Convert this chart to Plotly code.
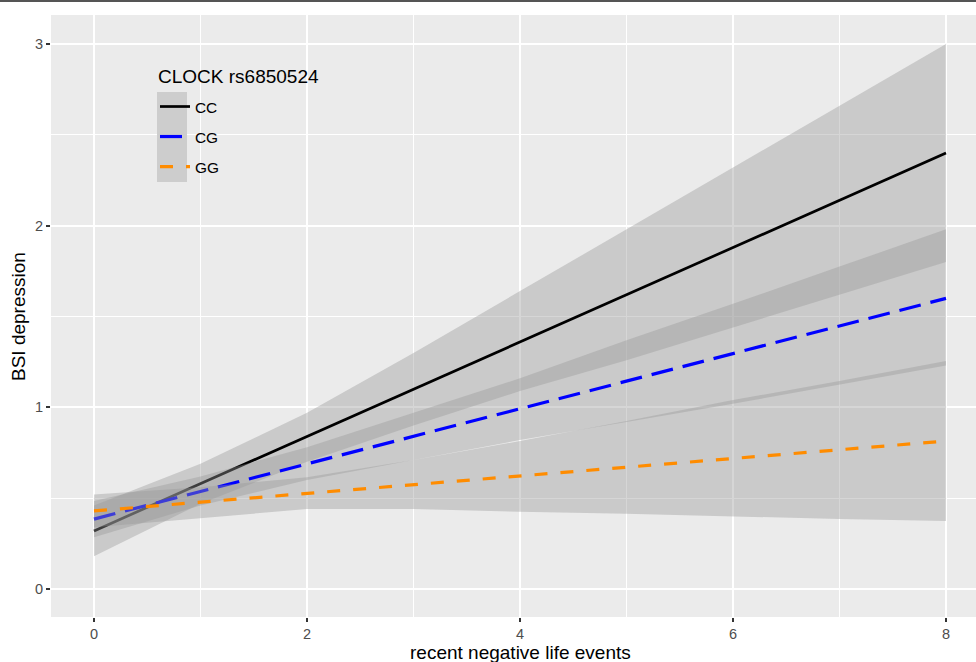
import plotly.graph_objects as go

# ---- data ----
life_events = [0, 1, 2, 3, 4, 5, 6, 7, 8]

cc_fit   = [0.32, 0.58, 0.84, 1.10, 1.36, 1.62, 1.88, 2.14, 2.40]
cc_lower = [0.18, 0.47, 0.70, 0.90, 1.09, 1.26, 1.44, 1.62, 1.80]
cc_upper = [0.46, 0.69, 0.97, 1.30, 1.64, 1.98, 2.32, 2.66, 3.00]

cg_fit   = [0.385, 0.537, 0.689, 0.841, 0.993, 1.145, 1.297, 1.449, 1.60]
cg_lower = [0.285, 0.46, 0.60, 0.71, 0.82, 0.92, 1.02, 1.125, 1.23]
cg_upper = [0.485, 0.62, 0.78, 0.97, 1.16, 1.37, 1.57, 1.775, 1.98]

gg_fit   = [0.43, 0.478, 0.526, 0.574, 0.622, 0.67, 0.718, 0.766, 0.815]
gg_lower = [0.34, 0.39, 0.44, 0.44, 0.425, 0.415, 0.40, 0.385, 0.375]
gg_upper = [0.52, 0.56, 0.615, 0.71, 0.815, 0.925, 1.04, 1.145, 1.255]

genotypes = ["CC", "CG", "GG"]
legend_title = "CLOCK rs6850524"
x_title = "recent negative life events"
y_title = "BSI depression"
x_ticks = [0, 2, 4, 6, 8]
y_ticks = [0, 1, 2, 3]

series = [
    (genotypes[0], cc_fit, cc_lower, cc_upper, "#000000", "solid", 2.7),
    (genotypes[1], cg_fit, cg_lower, cg_upper, "#0000FF", "22px,10px", 3.2),
    (genotypes[2], gg_fit, gg_lower, gg_upper, "#FF8C00", "13px,13px", 3.2),
]

FONT = "Liberation Sans, Arial, sans-serif"
W, H = 976, 662
ML, MR, MT, MB = 51, 0, 15, 45
PW, PH = W - ML - MR, H - MT - MB

def px_to_paper_x(px):
    return (px - ML) / PW

def px_to_paper_y(py):
    return (H - MB - py) / PH

fig = go.Figure()
for name, fit, lo, hi, color, dash, lw in series:
    fig.add_trace(go.Scatter(
        x=life_events + life_events[::-1],
        y=hi + lo[::-1],
        fill="toself", fillcolor="rgba(153,153,153,0.4)",
        line=dict(width=0), mode="lines",
        hoverinfo="skip", showlegend=False, legendgroup=name,
    ))
    fig.add_trace(go.Scatter(
        x=life_events, y=fit, mode="lines", name=name, legendgroup=name,
        line=dict(color=color, dash=dash, width=lw),
    ))

fig.update_layout(
    width=W, height=H,
    margin=dict(l=ML, r=MR, t=MT, b=MB),
    paper_bgcolor="white", plot_bgcolor="#EBEBEB",
    font=dict(family=FONT, color="#4D4D4D"),
    legend=dict(
        font=dict(size=15.4, color="#000000"),
        x=px_to_paper_x(155), y=px_to_paper_y(90),
        xanchor="left", yanchor="top",
        bgcolor="rgba(0,0,0,0)", tracegroupgap=7,
        traceorder="grouped", itemwidth=30,
    ),
    showlegend=True,
)

fig.update_xaxes(
    range=[-0.4038, 8.2817], tickvals=x_ticks, ticktext=[str(v) for v in x_ticks],
    showgrid=True, gridcolor="white", gridwidth=2,
    minor=dict(dtick=1, showgrid=True, gridcolor="white", gridwidth=1, tick0=0),
    zeroline=False, ticks="outside", ticklen=4, tickcolor="#333333", tickwidth=1.5,
    tickfont=dict(size=14.5, color="#4D4D4D"), showline=False,
)
fig.update_yaxes(
    range=[-0.154, 3.16], tickvals=y_ticks, ticktext=[str(v) for v in y_ticks],
    showgrid=True, gridcolor="white", gridwidth=2,
    minor=dict(dtick=0.5, showgrid=True, gridcolor="white", gridwidth=1, tick0=0),
    zeroline=False, ticks="outside", ticklen=4, tickcolor="#333333", tickwidth=1.5,
    tickfont=dict(size=14.5, color="#4D4D4D"), showline=False,
)

# axis titles and legend title
fig.add_annotation(text=x_title, xref="paper", yref="paper",
                   x=px_to_paper_x(520), y=px_to_paper_y(652.5), xanchor="center", yanchor="middle",
                   showarrow=False, font=dict(size=19, color="#000000", family=FONT))
fig.add_annotation(text=y_title, xref="paper", yref="paper",
                   x=px_to_paper_x(18), y=px_to_paper_y(317), xanchor="center", yanchor="middle",
                   textangle=-90, showarrow=False, font=dict(size=19, color="#000000", family=FONT))
fig.add_annotation(text=legend_title, xref="paper", yref="paper",
                   x=px_to_paper_x(156), y=px_to_paper_y(76), xanchor="left", yanchor="middle",
                   showarrow=False, font=dict(size=19, color="#000000", family=FONT))

# legend key background and top frame line
fig.add_shape(type="rect", xref="paper", yref="paper",
              x0=px_to_paper_x(157), x1=px_to_paper_x(187),
              y0=px_to_paper_y(182), y1=px_to_paper_y(92),
              fillcolor="#CDCDCD", line=dict(width=0), layer="above")
fig.add_shape(type="line", xref="paper", yref="paper",
              x0=px_to_paper_x(0), x1=px_to_paper_x(976),
              y0=px_to_paper_y(1), y1=px_to_paper_y(1),
              line=dict(color="#555555", width=2), layer="above")

fig.write_html("out.html", config={"displayModeBar": False},
               post_script="document.body.style.margin='0';")
